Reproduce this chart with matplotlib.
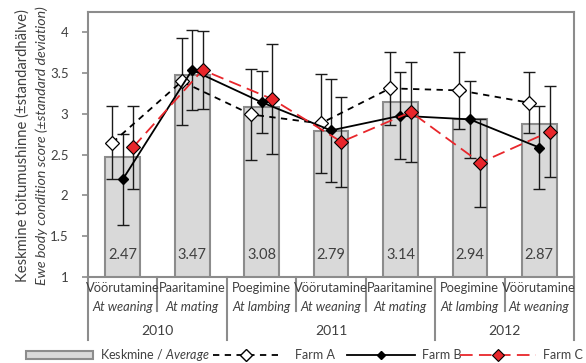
import matplotlib
matplotlib.use('Agg')
import matplotlib.pyplot as plt
from matplotlib.patches import Patch
from matplotlib.lines import Line2D
import numpy as np

plt.rcParams['font.family'] = ['Lato', 'DejaVu Sans']
plt.rcParams['mathtext.fontset'] = 'custom'
plt.rcParams['mathtext.rm'] = 'Lato'
plt.rcParams['mathtext.it'] = 'Lato:italic'

# category labels (two lines) and years
cats_et = ['Vöörutamine', 'Paaritamine', 'Poegimine', 'Vöörutamine',
           'Paaritamine', 'Poegimine', 'Vöörutamine']
cats_en = ['At weaning', 'At mating', 'At lambing', 'At weaning',
           'At mating', 'At lambing', 'At weaning']
years = ['2010', '2011', '2012']
year_groups = [(0, 1), (2, 4), (5, 6)]

# mean over all farms
average = [2.47, 3.47, 3.08, 2.79, 3.14, 2.94, 2.87]

# farm means and standard deviations
farm_a = [2.645, 3.395, 2.99, 2.88, 3.31, 3.285, 3.135]
farm_a_sd = [0.445, 0.535, 0.56, 0.61, 0.45, 0.475, 0.375]
farm_b = [2.195, 3.535, 3.14, 2.795, 2.975, 2.93, 2.585]
farm_b_sd = [0.555, 0.485, 0.38, 0.635, 0.535, 0.47, 0.505]
farm_c = [2.59, 3.535, 3.18, 2.655, 3.02, 2.40, 2.78]
farm_c_sd = [0.51, 0.475, 0.67, 0.555, 0.61, 0.54, 0.56]

grey = '#8C8C8C'
txt = '#404040'
red = '#E8262B'

fig = plt.figure(figsize=(5.86, 3.63), dpi=100)
ax = fig.add_axes([88 / 586, 1 - 277 / 363, (574 - 88) / 586, (277 - 12) / 363])

x = np.arange(len(average))
ax.bar(x, average, width=0.5, bottom=0, color='#D9D9D9', edgecolor=grey,
       linewidth=1.5, zorder=1)
for xi, v in zip(x, average):
    ax.text(xi, 1.27, f'{v:.2f}', ha='center', va='center', fontsize=10.5,
            color=txt, zorder=2)

off = 0.15
ax.errorbar(x - off, farm_a, yerr=farm_a_sd, fmt='none', ecolor='#1a1a1a',
            elinewidth=1, capsize=4, capthick=1, zorder=3)
ax.errorbar(x, farm_b, yerr=farm_b_sd, fmt='none', ecolor='#1a1a1a',
            elinewidth=1, capsize=4, capthick=1, zorder=3)
ax.errorbar(x + off, farm_c, yerr=farm_c_sd, fmt='none', ecolor='#1a1a1a',
            elinewidth=1, capsize=4, capthick=1, zorder=3)

ax.plot(x - off, farm_a, color='black', lw=1.3, dashes=(3.5, 3), marker='D',
        markersize=7, markerfacecolor='white', markeredgecolor='black',
        markeredgewidth=0.9, zorder=4)
ax.plot(x, farm_b, color='black', lw=1.3, marker='D', markersize=5,
        markerfacecolor='black', markeredgecolor='black', zorder=5)
ax.plot(x + off, farm_c, color=red, lw=1.3, dashes=(7, 3.5), marker='D',
        markersize=7.5, markerfacecolor=red, markeredgecolor='black',
        markeredgewidth=0.8, zorder=6)

ax.set_xlim(-0.5, 6.5)
ax.set_ylim(1, 4.245)
ax.set_yticks([1, 1.5, 2, 2.5, 3, 3.5, 4])
ax.set_yticklabels(['1', '1.5', '2', '2.5', '3', '3.5', '4'])
ax.tick_params(axis='y', length=4, width=1.2, color=grey, labelcolor=txt,
               labelsize=9.5, pad=10)
ax.tick_params(axis='x', length=0, labelbottom=False)
for s in ax.spines.values():
    s.set_color(grey)
    s.set_linewidth(1.5)

# multi-level category axis
tr = ax.get_xaxis_transform()
h = 265.0
for xi, et, en in zip(x, cats_et, cats_en):
    ax.text(xi, -(288 - 277) / h, et, transform=tr, ha='center', va='center',
            fontsize=9.3, color=txt)
    ax.text(xi, -(307 - 277) / h, en, transform=tr, ha='center', va='center',
            fontsize=9.3, color=txt, style='italic')
for (a, b), yr in zip(year_groups, years):
    ax.text((a + b) / 2, -(331 - 277) / h, yr, transform=tr, ha='center',
            va='center', fontsize=10, color=txt)
for d in [0.5, 2.5, 3.5, 5.5]:
    ax.add_line(Line2D([d, d], [0, -(311 - 277) / h], transform=tr,
                       color=grey, lw=1.5, clip_on=False))
for d in [-0.5, 1.5, 4.5, 6.5]:
    ax.add_line(Line2D([d, d], [0, -(340 - 277) / h], transform=tr,
                       color=grey, lw=1.5, clip_on=False))

# y axis title in two languages
fig.text(23 / 586, 1 - 146 / 363, 'Keskmine toitumushinne (±standardhälve)',
         rotation=90, ha='center', va='center', fontsize=10.6, color=txt)
fig.text(42 / 586, 1 - 146 / 363, 'Ewe body condition score (±standard deviation)',
         rotation=90, ha='center', va='center', fontsize=10.2, color=txt,
         style='italic')

# legend: one entry per block so each sits where it does in the original
handles = [
    Patch(facecolor='#D9D9D9', edgecolor=grey, linewidth=1.5),
    Line2D([], [], color='black', lw=1.3, dashes=(3.5, 3), marker='D',
           markersize=6, markerfacecolor='white', markeredgecolor='black'),
    Line2D([], [], color='black', lw=1.3, marker='D', markersize=4.5,
           markerfacecolor='black'),
    Line2D([], [], color=red, lw=1.3, dashes=(7, 3.5), marker='D',
           markersize=6.5, markerfacecolor=red, markeredgecolor='black',
           markeredgewidth=0.8),
]
labels = ['Keskmine / $\\it{Average}$', 'Farm A', 'Farm B', 'Farm C']
leg_left = [26, 213, 347, 460]
leg_len = [67, 66, 68, 76]
leg_pad = [7, 16, 7, 7]
fs_px = 9 * 100 / 72
for hd, lb, l0, ln, pd in zip(handles, labels, leg_left, leg_len, leg_pad):
    lg = fig.legend([hd], [lb], loc='center left',
                    bbox_to_anchor=(l0 / 586, 1 - 355 / 363),
                    frameon=False, fontsize=9, handlelength=ln / fs_px,
                    handleheight=0.6, handletextpad=pd / fs_px,
                    borderpad=0, borderaxespad=0)
    for t in lg.get_texts():
        t.set_color(txt)

fig.savefig('out.png', dpi=100)
